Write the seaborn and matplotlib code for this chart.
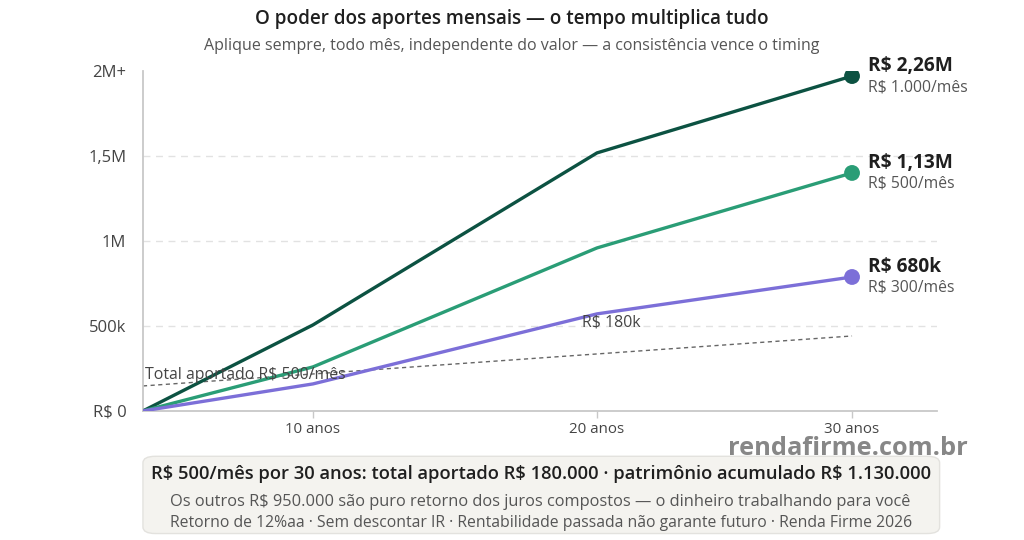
import numpy as np
import pandas as pd
import seaborn as sns
import matplotlib.pyplot as plt
from matplotlib.patches import FancyBboxPatch

# values
anos = [0, 10, 20, 30]
serie_1000 = [0, 506000, 1518000, 1970000]
serie_500 = [0, 259000, 959000, 1400000]
serie_300 = [0, 159000, 571000, 788000]
aportado_anos = [0, 30]
aportado_500 = [147000, 441000]

nomes = ['R$ 1.000/mês', 'R$ 500/mês', 'R$ 300/mês']
finais = ['R$ 2,26M', 'R$ 1,13M', 'R$ 680k']
cores = ['#0c5242', '#2a9d76', '#7c6fd8']

yticks = [0, 500000, 1000000, 1500000, 2000000]
ylabels = ['R$ 0', '500k', '1M', '1,5M', '2M+']
xticks = [10, 20, 30]
xlabels = ['10 anos', '20 anos', '30 anos']

df = pd.DataFrame({
    'ano': anos * 3,
    'valor': serie_1000 + serie_500 + serie_300,
    'serie': [n for n in nomes for _ in anos],
})
fim = df[df['ano'] == anos[-1]]

sns.set_style('white')
plt.rcParams['font.family'] = ['Open Sans', 'DejaVu Sans']

fig = plt.figure(figsize=(10.24, 5.4), dpi=100)
ax = fig.add_axes([0.1396, 0.239, 0.7754, 0.6296])

# the reference spaces the year ticks unevenly, piecewise scale to mimic it
kx = [-10, 0, 10, 20, 30, 40]
kp = [-170, 0, 170, 454, 709, 964]
ax.set_xscale('function', functions=(lambda v: np.interp(v, kx, kp),
                                     lambda v: np.interp(v, kp, kx)))

for g in yticks[1:-1]:
    ax.axhline(g, color='#e2e2e2', lw=1, ls=(0, (5, 4)), zorder=0)

ax.plot(aportado_anos, aportado_500, color='#666666', lw=1, ls=(0, (3, 2.5)), zorder=1)

sns.lineplot(data=df, x='ano', y='valor', hue='serie', hue_order=nomes,
             palette=cores, linewidth=2.4, legend=False, ax=ax, zorder=3)
sns.scatterplot(data=fim, x='ano', y='valor', hue='serie', hue_order=nomes,
                palette=cores, s=130, edgecolor='none', legend=False, ax=ax, zorder=4)

for (_, r), tit in zip(fim.iterrows(), finais):
    ax.annotate(tit, (r['ano'], r['valor']), xytext=(16, 10), textcoords='offset pixels',
                ha='left', va='center', fontsize=13.8, fontweight='bold', color='#1f1f1f')
    ax.annotate(r['serie'], (r['ano'], r['valor']), xytext=(16, -11), textcoords='offset pixels',
                ha='left', va='center', fontsize=11.3, color='#555555')

ax.annotate('Total aportado R$ 500/mês', (aportado_anos[0], aportado_500[0]), xytext=(2, 11),
            textcoords='offset pixels', ha='left', va='center', fontsize=11.4, color='#444444')
ax.annotate('R$ 180k', (anos[2], serie_300[2]), xytext=(-15, -9),
            textcoords='offset pixels', ha='left', va='center', fontsize=11.4, color='#444444')

ax.set_xlim(0, 33.33)
ax.set_ylim(0, 2000000)
ax.set_yticks(yticks)
ax.set_yticklabels(ylabels)
ax.set_xticks(xticks)
ax.set_xticklabels(xlabels)
ax.set_xlabel('')
ax.set_ylabel('')
ax.tick_params(axis='y', length=0, pad=12, labelsize=12, labelcolor='#444444')
ax.tick_params(axis='x', length=5, width=1, color='#c8c8c8', pad=3, labelsize=10.8,
               labelcolor='#444444', bottom=True)
for s in ['top', 'right']:
    ax.spines[s].set_visible(False)
for s in ['left', 'bottom']:
    ax.spines[s].set_color('#c8c8c8')
    ax.spines[s].set_linewidth(1.3)

fig.text(0.5, 0.965, 'O poder dos aportes mensais — o tempo multiplica tudo',
         ha='center', va='center', fontsize=13.6, fontweight='semibold', color='#1f1f1f')
fig.text(0.5, 0.915, 'Aplique sempre, todo mês, independente do valor — a consistência vence o timing',
         ha='center', va='center', fontsize=11.5, color='#555555')

caixa = FancyBboxPatch((0.1396, 0.012), 0.778, 0.143, transform=fig.transFigure,
                       boxstyle='round,pad=0,rounding_size=0.012', facecolor='#f4f3ef',
                       edgecolor='#e3e2de', lw=1, zorder=0)
fig.patches.append(caixa)
fig.text(0.528, 0.122, 'R$ 500/mês por 30 anos: total aportado R$ 180.000 · patrimônio acumulado R$ 1.130.000',
         ha='center', va='center', fontsize=13.2, fontweight='semibold', color='#1f1f1f')
fig.text(0.528, 0.070, 'Os outros R$ 950.000 são puro retorno dos juros compostos — o dinheiro trabalhando para você',
         ha='center', va='center', fontsize=11.8, color='#555555')
fig.text(0.528, 0.031, 'Retorno de 12%aa · Sem descontar IR · Rentabilidade passada não garante futuro · Renda Firme 2026',
         ha='center', va='center', fontsize=11.3, color='#555555')

fig.text(0.828, 0.169, 'rendafirme.com.br', ha='center', va='center', fontsize=18.3,
         fontweight='bold', color='#7a7a7a', alpha=0.9)

fig.savefig('out.png', dpi=100)
